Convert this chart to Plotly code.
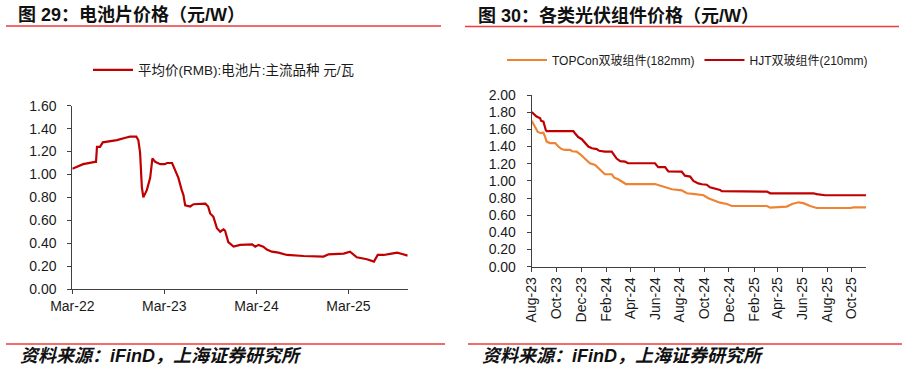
import plotly.graph_objects as go

# ---------------- data ----------------
cell_dates = ["2022-03-01","2022-04-13","2022-05-30","2022-06-03","2022-06-07","2022-06-19","2022-06-30",
              "2022-08-10","2022-08-25","2022-09-28","2022-10-16","2022-11-10","2022-11-18","2022-11-25",
              "2022-12-02","2022-12-08","2022-12-22","2023-01-04","2023-01-13","2023-01-24","2023-02-13",
              "2023-03-03","2023-03-12","2023-04-01","2023-04-13","2023-04-26","2023-05-09","2023-05-16",
              "2023-05-23","2023-06-12","2023-06-25","2023-08-11","2023-08-22","2023-08-30","2023-09-12",
              "2023-09-26","2023-10-09","2023-10-22","2023-10-28","2023-11-04","2023-11-10","2023-12-01",
              "2023-12-27","2024-02-13","2024-02-25","2024-03-09","2024-03-28","2024-04-11","2024-05-01",
              "2024-05-27","2024-06-30","2024-09-04","2024-11-22","2024-12-12","2025-02-10","2025-03-07",
              "2025-04-03","2025-05-13","2025-06-10","2025-06-25","2025-07-19","2025-08-13","2025-09-10",
              "2025-09-30","2025-10-22"]
cell_price = [1.05,1.09,1.11,1.11,1.24,1.24,1.28,1.29,1.30,1.32,1.33,1.33,1.30,1.19,0.89,0.80,0.865,0.97,
              1.14,1.11,1.09,1.09,1.10,1.10,1.04,0.97,0.865,0.82,0.73,0.72,0.74,0.745,0.72,0.66,0.63,0.53,
              0.50,0.52,0.51,0.45,0.41,0.37,0.385,0.39,0.37,0.385,0.37,0.345,0.326,0.317,0.297,0.288,0.283,
              0.303,0.309,0.326,0.277,0.26,0.239,0.297,0.297,0.306,0.317,0.306,0.291]

hjt_dates = ["2023-08-01","2023-08-09","2023-08-13","2023-08-22","2023-08-24","2023-08-30","2023-09-01",
             "2023-09-05","2023-09-07","2023-11-12","2023-11-16","2023-11-24","2023-12-03","2023-12-11",
             "2023-12-19","2023-12-28","2024-01-09","2024-01-15","2024-01-29","2024-02-15","2024-02-21",
             "2024-02-27","2024-03-07","2024-03-19","2024-03-26","2024-06-01","2024-06-09","2024-06-26",
             "2024-07-04","2024-08-06","2024-08-14","2024-08-27","2024-09-04","2024-09-16","2024-09-25",
             "2024-10-07","2024-10-15","2024-10-28","2024-11-09","2024-11-13","2025-01-06","2025-01-27",
             "2025-03-05","2025-03-13","2025-06-28","2025-07-06","2025-07-27","2025-11-05"]
hjt_price = [1.80,1.77,1.75,1.73,1.70,1.69,1.65,1.59,1.58,1.58,1.555,1.51,1.485,1.445,1.40,1.38,1.37,1.35,
             1.34,1.34,1.30,1.26,1.23,1.225,1.205,1.205,1.16,1.16,1.11,1.107,1.06,1.05,1.00,0.97,0.96,0.955,
             0.925,0.91,0.894,0.88,0.88,0.875,0.875,0.855,0.855,0.845,0.832,0.832]

topcon_dates = ["2023-08-01","2023-08-09","2023-08-16","2023-08-24","2023-08-30","2023-09-03","2023-09-07",
                "2023-09-15","2023-09-28","2023-10-06","2023-10-14","2023-10-22","2023-11-04","2023-11-09",
                "2023-11-20","2023-11-29","2023-12-07","2023-12-15","2023-12-23","2024-01-05","2024-01-13",
                "2024-01-21","2024-01-29","2024-02-15","2024-02-21","2024-03-02","2024-03-11","2024-03-21",
                "2024-06-01","2024-06-14","2024-06-26","2024-07-13","2024-08-06","2024-08-19","2024-09-08",
                "2024-09-29","2024-10-11","2024-10-24","2024-11-09","2024-11-26","2024-12-08","2025-03-05",
                "2025-03-13","2025-04-23","2025-05-06","2025-05-22","2025-06-03","2025-06-20","2025-07-06",
                "2025-09-27","2025-10-05","2025-11-05"]
topcon_price = [1.70,1.63,1.57,1.555,1.56,1.515,1.457,1.44,1.44,1.40,1.37,1.36,1.36,1.345,1.34,1.31,1.275,
                1.235,1.205,1.185,1.147,1.107,1.077,1.077,1.037,1.018,0.99,0.963,0.963,0.944,0.925,0.902,
                0.89,0.855,0.845,0.832,0.797,0.77,0.746,0.73,0.707,0.707,0.688,0.70,0.73,0.75,0.74,0.707,
                0.684,0.684,0.69,0.69]

left_ticks = ["2022-03-01", "2023-03-01", "2024-03-01", "2025-03-01"]
right_ticks = ["2023-08-01","2023-10-01","2023-12-01","2024-02-01","2024-04-01","2024-06-01","2024-08-01",
               "2024-10-01","2024-12-01","2025-02-01","2025-04-01","2025-06-01","2025-08-01","2025-10-01"]

title_left = "图 29：电池片价格（元/W）"
title_right = "图 30：各类光伏组件价格（元/W）"
source_text = "资料来源：iFinD，上海证券研究所"
name_cell = "平均价(RMB):电池片:主流品种 元/瓦"
name_topcon = "TOPCon双玻组件(182mm)"
name_hjt = "HJT双玻组件(210mm)"

# ---------------- figure ----------------
W, H = 905, 371

FONT = "Liberation Sans, Arial, Noto Sans CJK SC, sans-serif"
DARK = "#C00000"
ORANGE = "#EE8433"
AXIS = "#404040"

def px(x):
    return x / W

def py(y):
    return 1 - y / H

fig = go.Figure()
fig.add_trace(go.Scatter(x=cell_dates, y=cell_price, mode="lines", name=name_cell, showlegend=True,
                         line=dict(color=DARK, width=2.2), xaxis="x", yaxis="y", legend="legend"))
fig.add_trace(go.Scatter(x=topcon_dates, y=topcon_price, mode="lines", name=name_topcon, showlegend=True,
                         line=dict(color=ORANGE, width=2.2), xaxis="x2", yaxis="y2", legend="legend2"))
fig.add_trace(go.Scatter(x=hjt_dates, y=hjt_price, mode="lines", name=name_hjt, showlegend=True,
                         line=dict(color=DARK, width=2.2), xaxis="x2", yaxis="y2", legend="legend2"))

axis_common = dict(showgrid=False, zeroline=False, showline=True, linecolor=AXIS, linewidth=1,
                   ticks="outside", tickcolor=AXIS, ticklen=4, automargin=False,
                   tickfont=dict(family=FONT, size=14, color="#1a1a1a"))

fig.update_layout(
    width=W, height=H,
    margin=dict(l=0, r=0, t=0, b=0, autoexpand=False),
    paper_bgcolor="white", plot_bgcolor="white",
    font=dict(family=FONT),
    showlegend=True,
    xaxis=dict(domain=[px(72.3), px(407.7)], type="date", range=["2022-03-01", "2025-10-22"],
               tickvals=left_ticks, tickformat="%b-%y", anchor="y", **axis_common),
    yaxis=dict(domain=[py(289), py(105.7)], range=[0, 1.6], dtick=0.2, tick0=0, tickformat=".2f",
               anchor="x", ticklabelstandoff=8, **axis_common),
    xaxis2=dict(domain=[px(531.7), px(866)], type="date", range=["2023-08-01", "2025-11-05"],
                tickvals=right_ticks, tickformat="%b-%y", tickangle=-90, anchor="y2", **axis_common),
    yaxis2=dict(domain=[py(266.7), py(95)], range=[0, 2.0], dtick=0.2, tick0=0, tickformat=".2f",
                anchor="x2", ticklabelstandoff=8, **axis_common),
    legend=dict(x=px(88), y=py(70), xanchor="left", yanchor="middle", orientation="h",
                itemwidth=40, font=dict(family=FONT, size=13.5, color="#1a1a1a"), bgcolor="rgba(0,0,0,0)"),
    legend2=dict(x=px(502), y=py(60), xanchor="left", yanchor="middle", orientation="h",
                 itemwidth=40, font=dict(family=FONT, size=12, color="#1a1a1a"), bgcolor="rgba(0,0,0,0)",
                 traceorder="normal"),
)

# separator lines
RED = "#EE3B3B"
for (x0, x1, y) in [(6, 441, 26), (465, 899, 26.5), (6, 445, 344), (468, 902, 344)]:
    fig.add_shape(type="line", xref="paper", yref="paper", x0=px(x0), x1=px(x1), y0=py(y), y1=py(y),
                  line=dict(color=RED, width=1.5))

# titles
for (x, txt) in [(16, title_left), (476, title_right)]:
    fig.add_annotation(text="<b>" + txt + "</b>", xref="paper", yref="paper", x=px(x), y=py(15),
                       xanchor="left", yanchor="middle", showarrow=False,
                       font=dict(family=FONT, size=18, color="#111111"))

# sources
for x in [18, 480]:
    fig.add_annotation(text="<b><i>" + source_text + "</i></b>", xref="paper", yref="paper",
                       x=px(x), y=py(356), xanchor="left", yanchor="middle", showarrow=False,
                       font=dict(family=FONT, size=18, color="#111111"))

fig.write_html("out.html", config={"displayModeBar": False},
               post_script="document.body.style.margin='0px';")
